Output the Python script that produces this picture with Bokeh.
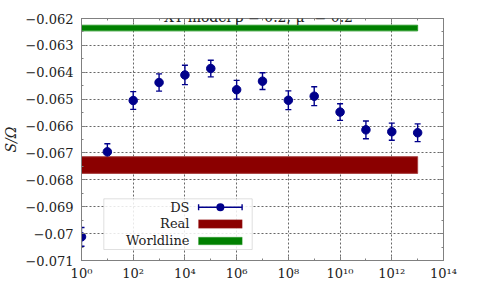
from bokeh.plotting import figure
from bokeh.models import (FixedTicker, LinearAxis, LogAxis, Range1d, Label,
                          BoxAnnotation, Whisker, TeeHead, ColumnDataSource)
from bokeh.embed import file_html
from bokeh.resources import INLINE

# ---- data ----
alpha_ds = [1e0, 1e1, 1e2, 1e3, 1e4, 1e5, 1e6, 1e7, 1e8, 1e9, 1e10, 1e11, 1e12, 1e13]
ds_mean = [-0.07012, -0.06696, -0.06505, -0.06438, -0.06410, -0.06386, -0.06465,
           -0.06433, -0.06504, -0.06489, -0.06548, -0.06614, -0.06621, -0.06625]
ds_err = [0.00035, 0.00030, 0.00033, 0.00032, 0.00036, 0.00031, 0.00035,
          0.00031, 0.00035, 0.00035, 0.00031, 0.00033, 0.00032, 0.00033]

band_x = [1e0, 1e13]
real_mean = -0.06745
real_err = 0.00031
world_mean = -0.062355
world_err = 0.000105

x_ticks = [1, 10**2, 10**4, 10**6, 10**8, 10**10, 10**12, 10**14]
x_tick_labels = ["10⁰", "10²", "10⁴", "10⁶", "10⁸", "10¹⁰", "10¹²", "10¹⁴"]
x_minor = [10**1, 10**3, 10**5, 10**7, 10**9, 10**11, 10**13]
y_ticks = [-0.071, -0.070, -0.069, -0.068, -0.067, -0.066, -0.065, -0.064, -0.063, -0.062]
y_tick_labels = ["−0.071", "−0.07", "−0.069", "−0.068", "−0.067", "−0.066",
                 "−0.065", "−0.064", "−0.063", "−0.062"]
y_minor = [t + 0.0005 for t in y_ticks[:-1]]

FONT = "DejaVu Serif"
DS_COLOR = "#00008B"
REAL_COLOR = "#8B0000"
WORLD_COLOR = "#008000"
AX_COLOR = "#808080"

p = figure(frame_width=362, frame_height=242, x_axis_type="log",
           x_range=Range1d(1, 1e14), y_range=Range1d(-0.071, -0.062),
           output_backend="svg", toolbar_location=None,
           min_border_left=81, min_border_right=48, min_border_top=18,
           min_border_bottom=47, background_fill_color="white",
           border_fill_color="white")
p.outline_line_color = AX_COLOR

# bands
p.quad(left=band_x[0], right=band_x[1], bottom=real_mean - real_err,
       top=real_mean + real_err, fill_color=REAL_COLOR, line_color="#a84040",
       line_width=1)
p.quad(left=band_x[0], right=band_x[1], bottom=world_mean - world_err,
       top=world_mean + world_err, fill_color=WORLD_COLOR, line_color="#2a9a2a",
       line_width=1)

# DS points with error bars
src = ColumnDataSource(dict(
    x=alpha_ds, y=ds_mean,
    upper=[m + e for m, e in zip(ds_mean, ds_err)],
    lower=[m - e for m, e in zip(ds_mean, ds_err)]))
p.scatter("x", "y", source=src, size=8.5, fill_color=DS_COLOR, line_color=DS_COLOR)
wh = Whisker(base="x", upper="upper", lower="lower", source=src, dimension="height",
             line_color=DS_COLOR, line_width=1.4,
             upper_head=TeeHead(size=6, line_color=DS_COLOR, line_width=1.4),
             lower_head=TeeHead(size=6, line_color=DS_COLOR, line_width=1.4))
p.add_layout(wh)

# axes styling
def style(ax, labels=True):
    ax.axis_line_color = AX_COLOR
    ax.major_tick_line_color = AX_COLOR
    ax.minor_tick_line_color = AX_COLOR
    ax.major_tick_in = 4
    ax.major_tick_out = 0
    ax.minor_tick_in = 2
    ax.minor_tick_out = 0
    ax.major_label_text_font = FONT
    if labels:
        ax.major_label_text_font_size = "13px"
        ax.major_label_text_color = "#222222"
    else:
        ax.major_label_text_font_size = "1px"
        ax.major_label_text_alpha = 0
        ax.major_label_standoff = 0

xt = FixedTicker(ticks=x_ticks, minor_ticks=x_minor)
yt = FixedTicker(ticks=y_ticks, minor_ticks=y_minor)

xa = p.xaxis[0]
xa.ticker = xt
xa.major_label_overrides = dict(zip(x_ticks, x_tick_labels))
style(xa)
xa.major_label_standoff = 5

ya = p.yaxis[0]
ya.ticker = yt
ya.major_label_overrides = dict(zip(y_ticks, y_tick_labels))
style(ya)
ya.major_label_standoff = 8
ya.axis_label = "S/Ω"
ya.axis_label_text_font = FONT
ya.axis_label_text_font_style = "italic"
ya.axis_label_text_font_size = "14px"
ya.axis_label_text_color = "#222222"
ya.axis_label_standoff = 3

ra = LinearAxis(ticker=yt)
style(ra, labels=False)
p.add_layout(ra, "right")
ta = LogAxis(ticker=xt)
style(ta, labels=False)
p.add_layout(ta, "above")

p.xgrid.ticker = xt
p.ygrid.ticker = yt
for g in (p.xgrid, p.ygrid):
    g.grid_line_color = "black"
    g.grid_line_alpha = 0.75
    g.grid_line_dash = "2 2"
    g.grid_line_width = 0.8

# title and x label as text annotations
p.add_layout(Label(x=177, y=243.5, x_units="screen", y_units="screen",
                   text="XY model β = 0.2, μ² = 0.2", text_font=FONT,
                   text_font_size="14px", text_align="center",
                   text_baseline="alphabetic", text_color="#222222"))
p.add_layout(Label(x=161, y=-36.5, x_units="screen", y_units="screen",
                   text="α", text_font=FONT, text_font_style="italic",
                   text_font_size="14px", text_align="left",
                   text_baseline="alphabetic", text_color="#222222"))
p.add_layout(Label(x=169.5, y=-41, x_units="screen", y_units="screen",
                   text="DS", text_font=FONT, text_font_style="italic",
                   text_font_size="11px", text_align="left",
                   text_baseline="alphabetic", text_color="#222222"))

# legend
def sbox(l, r, b, t, **kw):
    return BoxAnnotation(left=l, right=r, bottom=b, top=t, left_units="screen",
                         right_units="screen", bottom_units="screen",
                         top_units="screen", **kw)

p.add_layout(sbox(22.3, 170.7, 11, 61.7, fill_color="white", fill_alpha=0.85,
                  line_color="#999999", line_width=1))
legend_rows = [("DS", 53.3), ("Real", 36.7), ("Worldline", 20.0)]
for txt, yy in legend_rows:
    p.add_layout(Label(x=108, y=yy, x_units="screen", y_units="screen", text=txt,
                       text_font=FONT, text_font_size="13px", text_align="right",
                       text_baseline="middle", text_color="#222222"))
# DS sample
p.add_layout(sbox(117, 160.7, 52.6, 54.1, fill_color=DS_COLOR, fill_alpha=1, line_color=None))
p.add_layout(sbox(116.4, 117.8, 50.3, 56.3, fill_color=DS_COLOR, fill_alpha=1, line_color=None))
p.add_layout(sbox(159.9, 161.3, 50.3, 56.3, fill_color=DS_COLOR, fill_alpha=1, line_color=None))
p.add_layout(sbox(134.85, 142.85, 49.35, 57.35, fill_color=DS_COLOR, fill_alpha=1,
                  line_color=None, border_radius=4))
# Real / Worldline samples
p.add_layout(sbox(117, 160.7, 32.3, 40.7, fill_color=REAL_COLOR, fill_alpha=1,
                  line_color="#a84040", line_width=1))
p.add_layout(sbox(117, 160.7, 15.7, 23.3, fill_color=WORLD_COLOR, fill_alpha=1,
                  line_color="#2a9a2a", line_width=1))

open("out.html", "w").write(file_html(p, INLINE))
